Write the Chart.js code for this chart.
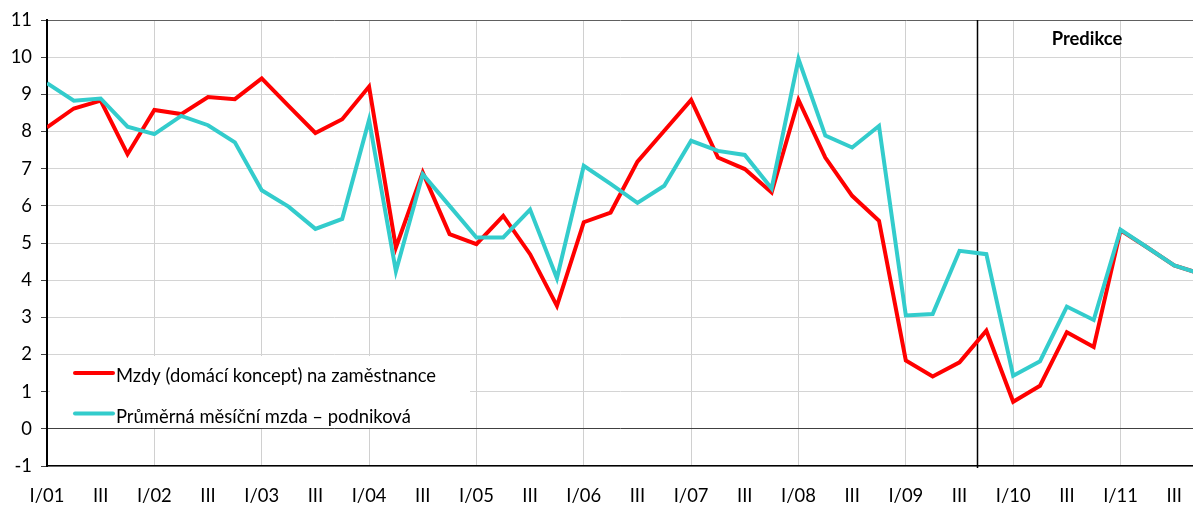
<!DOCTYPE html>
<html>
<head>
<meta charset="utf-8">
<script src="https://cdn.jsdelivr.net/npm/chart.js@4.4.0/dist/chart.umd.min.js"></script>
<style>
  html, body { margin: 0; padding: 0; background: #fff; overflow: hidden; }
  #wrap { width: 1193px; height: 509px; }
</style>
</head>
<body>
<div id="wrap"><canvas id="wageChart" width="1193" height="509"></canvas></div>
<script>
// popisky ctvrtleti (zobrazuje se jen I/rr a III)
const tickLabels = [
  'I/01', '', 'III', '', 'I/02', '', 'III', '', 'I/03', '', 'III', '',
  'I/04', '', 'III', '', 'I/05', '', 'III', '', 'I/06', '', 'III', '',
  'I/07', '', 'III', '', 'I/08', '', 'III', '', 'I/09', '', 'III', '',
  'I/10', '', 'III', '', 'I/11', '', 'III', ''
];

// Mzdy (domaci koncept) na zamestnance, mezirocne v %
const mzdyDomaci = [
  8.11, 8.62, 8.83, 7.39, 8.58, 8.47, 8.93, 8.87, 9.43, 8.69, 7.96, 8.33,
  9.21, 4.88, 6.90, 5.24, 4.97, 5.73, 4.70, 3.31, 5.56, 5.82, 7.19, 8.02,
  8.85, 7.30, 6.99, 6.36, 8.85, 7.30, 6.27, 5.60, 1.84, 1.41, 1.79, 2.64,
  0.73, 1.16, 2.60, 2.20, 5.34, 4.88, 4.40, 4.17
];

// Prumerna mesicni mzda - podnikova
const mzdaPodnikova = [
  9.30, 8.83, 8.89, 8.13, 7.93, 8.42, 8.17, 7.71, 6.42, 5.98, 5.38, 5.65,
  8.31, 4.24, 6.85, 6.00, 5.15, 5.15, 5.90, 4.05, 7.08, 6.59, 6.08, 6.54,
  7.75, 7.48, 7.37, 6.47, 9.95, 7.89, 7.57, 8.15, 3.05, 3.09, 4.79, 4.70,
  1.43, 1.82, 3.29, 2.93, 5.36, 4.88, 4.40, 4.17
];

const seriesNames = ['Mzdy (domácí koncept) na zaměstnance', 'Průměrná měsíční mzda – podniková'];
const seriesColors = ['#ff0000', '#33cccc'];

const predikceLabel = 'Predikce';
const predikceStart = 34.64;   // svisla cara mezi III/09 a IV/09
const xMax = 42.7;             // graf je vpravo oriznuty, IV/11 uz neni videt
const yMin = -1, yMax = 11;

const fontFamily = 'Lato, "Open Sans", sans-serif';
const fontSize = 18.4;
Chart.defaults.font.family = fontFamily;
Chart.defaults.font.size = fontSize;
Chart.defaults.color = '#000';

function isWhole(v) {
  return Math.abs(v - Math.round(v)) < 1e-6;
}

// legenda uvnitr grafu, s bilym pozadim pres mrizku
const legendaPlugin = {
  id: 'legenda',
  beforeDatasetsDraw(chart) {
    const {ctx, chartArea} = chart;
    const left = chartArea.left + 3;
    const top = chartArea.bottom - 110;
    ctx.save();
    ctx.fillStyle = '#fff';
    ctx.fillRect(left, top, 420, 72);
    chart.data.datasets.forEach((ds, i) => {
      const rowY = top + 17 + i * 40.6;
      ctx.strokeStyle = ds.borderColor;
      ctx.lineWidth = 4;
      ctx.lineCap = 'round';
      ctx.beginPath();
      ctx.moveTo(left + 25, rowY);
      ctx.lineTo(left + 63, rowY);
      ctx.stroke();
      ctx.fillStyle = '#000';
      ctx.font = fontSize + 'px ' + fontFamily;
      ctx.textAlign = 'left';
      ctx.textBaseline = 'alphabetic';
      ctx.fillText(ds.label, left + 66, rowY + 9.3);
    });
    ctx.restore();
  }
};

// svisla cara a napis Predikce
const predikcePlugin = {
  id: 'predikce',
  beforeDatasetsDraw(chart) {
    const {ctx, chartArea, scales: {x, y}} = chart;
    const px = Math.round(x.getPixelForValue(predikceStart)) + 0.5;
    ctx.save();
    ctx.strokeStyle = '#000';
    ctx.lineWidth = 1.5;
    ctx.beginPath();
    ctx.moveTo(px, chartArea.top);
    ctx.lineTo(px, chartArea.bottom + 2);
    ctx.stroke();
    ctx.font = 'bold ' + fontSize + 'px ' + fontFamily;
    ctx.textAlign = 'center';
    ctx.textBaseline = 'middle';
    ctx.fillText(predikceLabel, x.getPixelForValue(38.75), y.getPixelForValue(10.5));
    ctx.restore();
  }
};

const ctx = document.getElementById('wageChart').getContext('2d');
const wageChart = new Chart(ctx, {
  type: 'line',
  data: {
    datasets: [{
      label: seriesNames[0],
      data: mzdyDomaci.map((v, i) => ({x: i, y: v})),
      borderColor: seriesColors[0],
      borderWidth: 4,
      pointRadius: 0,
      tension: 0,
      fill: false,
      order: 1
    }, {
      label: seriesNames[1],
      data: mzdaPodnikova.map((v, i) => ({x: i, y: v})),
      borderColor: seriesColors[1],
      borderWidth: 4,
      pointRadius: 0,
      tension: 0,
      fill: false,
      order: 0
    }]
  },
  options: {
    responsive: false,
    animation: false,
    devicePixelRatio: 1,
    layout: { padding: { top: 20, right: 0, left: 0, bottom: 0 } },
    plugins: {
      legend: { display: false },
      tooltip: { enabled: false }
    },
    scales: {
      x: {
        type: 'linear',
        min: 0,
        max: xMax,
        afterFit: s => {
          s.height = 43;
          s.paddingLeft = 0;
          s.paddingRight = 0;
        },
        ticks: {
          stepSize: 1,
          includeBounds: false,
          autoSkip: false,
          maxRotation: 0,
          padding: 19,
          callback: v => isWhole(v) ? (tickLabels[Math.round(v)] || '') : ''
        },
        grid: {
          drawTicks: false,
          color: c => (c.tick && isWhole(c.tick.value) && Math.round(c.tick.value) % 4 === 0) ? '#d0d0d0' : 'rgba(0,0,0,0)'
        },
        border: { color: '#000', width: 1.5 }
      },
      y: {
        min: yMin,
        max: yMax,
        afterFit: s => { s.width = 47; },
        ticks: { stepSize: 1, padding: 9 },
        grid: {
          color: c => c.tick.value === 0 ? '#404040' : (c.tick.value === yMax ? '#606060' : '#d4d4d4'),
          tickColor: '#404040',
          tickLength: 6
        },
        border: { color: '#000', width: 2 }
      }
    }
  },
  plugins: [legendaPlugin, predikcePlugin]
});
</script>
</body>
</html>
